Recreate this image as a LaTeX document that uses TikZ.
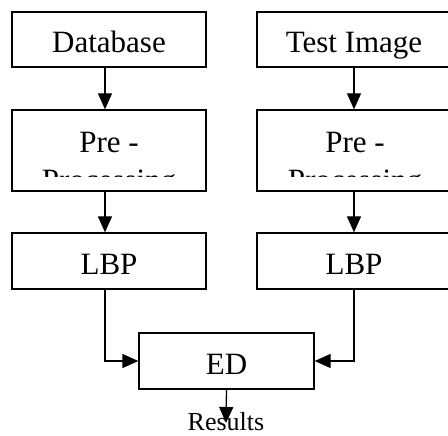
\documentclass[tikz,border=0pt]{standalone}
\usepackage{fontspec}
\setmainfont{Liberation Serif}
\usetikzlibrary{arrows.meta}
\tikzset{
  box/.style={draw, line width=1.3pt, rectangle, minimum width=194pt, minimum height=55pt,
    inner sep=0pt, text height=27pt, text depth=0pt, font=\fontsize{31}{37}\selectfont},
  txt/.style={inner sep=0pt, anchor=base, font=\fontsize{31}{37}\selectfont},
  arr/.style={line width=1.3pt, -{Triangle[length=16pt,width=14pt]}},
}
\begin{document}
\begin{tikzpicture}[x=1pt,y=-1pt]
\useasboundingbox (0,0) rectangle (448,436);
\coordinate (colL) at (105,0);
\coordinate (colR) at (354,0);
% top row
\node[box] (db) at (109,39.5) {Database};
\node[box] (ti) at (354,39.5) {Test Image};
% pre-processing
\node[box, minimum height=81pt] (ppl) at (109,150.5) {};
\node[box, minimum height=81pt] (ppr) at (354,150.5) {};
\begin{scope}
\clip (0,110) rectangle (448,177);
\node[txt] (prel) at (109,153) {Pre -};
\node[txt] (procl) at (109,190) {Processing};
\node[txt] (prer) at (355,153) {Pre -};
\node[txt] (procr) at (355,190) {Processing};
\end{scope}
% lbp
\node[box, minimum height=56pt] (lbpl) at (109,261) {LBP};
\node[box, minimum height=56pt] (lbpr) at (354,261) {LBP};
% ed
\node[box, minimum width=175pt, minimum height=56pt] (ed) at (226.5,361) {ED};
\node[txt, font=\fontsize{26}{30}\selectfont] (res) at (226,430) {Results};
\coordinate (restip) at (226,423);
% connectors
\draw[arr] (db.south -| colL) -- (ppl.north -| colL);
\draw[arr] (ti.south -| colR) -- (ppr.north -| colR);
\draw[arr] (ppl.south -| colL) -- (lbpl.north -| colL);
\draw[arr] (ppr.south -| colR) -- (lbpr.north -| colR);
\draw[arr] (lbpl.south -| colL) |- (ed.west);
\draw[arr] (lbpr.south -| colR) |- (ed.east);
\draw[arr] (ed.south) -- (restip);
\end{tikzpicture}
\end{document}
